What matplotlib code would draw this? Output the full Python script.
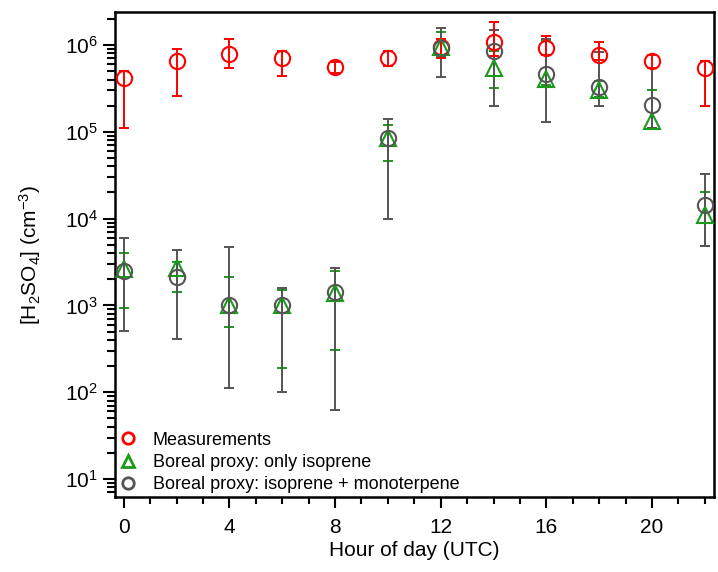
import numpy as np
import matplotlib
matplotlib.use("Agg")
import matplotlib.pyplot as plt
from matplotlib.ticker import LogLocator, MultipleLocator, NullFormatter

plt.rcParams['font.family'] = ['Liberation Sans', 'DejaVu Sans']
plt.rcParams['mathtext.fontset'] = 'custom'
plt.rcParams['mathtext.rm'] = 'Liberation Sans'
plt.rcParams['mathtext.it'] = 'Liberation Sans:italic'

hours = [0, 2, 4, 6, 8, 10, 12, 14, 16, 18, 20, 22]

# Measured H2SO4 concentration with lower/upper bounds (cm^-3)
meas = [4.2e5, 6.6e5, 7.9e5, 7.0e5, 5.6e5, 7.1e5, 9.4e5, 1.09e6, 9.3e5, 7.7e5, 6.5e5, 5.5e5]
meas_lo = [1.1e5, 2.6e5, 5.4e5, 4.4e5, 4.8e5, 5.7e5, 7.0e5, 7.5e5, 7.7e5, 6.7e5, 5.5e5, 2.0e5]
meas_hi = [5.0e5, 9.0e5, 1.16e6, 8.5e5, 6.3e5, 8.6e5, 1.16e6, 1.84e6, 1.27e6, 1.07e6, 7.6e5, 6.6e5]

# Boreal proxy, isoprene only
iso = [2.6e3, 2.7e3, 1.0e3, 1.0e3, 1.4e3, 8.5e4, 9.4e5, 5.4e5, 4.1e5, 3.0e5, 1.34e5, 1.09e4]
iso_lo = [9.4e2, 1.42e3, 5.7e2, 1.9e2, 3.1e2, 4.6e4, 7.3e5, 3.2e5, 3.5e5, 2.5e5, 1.12e5, 4.9e3]
iso_hi = [4.0e3, 3.2e3, 2.1e3, 1.5e3, 2.5e3, 1.2e5, 1.42e6, 8.5e5, 1.1e6, 3.8e5, 3.0e5, 2.0e4]

# Boreal proxy, isoprene + monoterpene
mono = [2.5e3, 2.1e3, 1.0e3, 1.0e3, 1.42e3, 8.6e4, 9.2e5, 8.5e5, 4.6e5, 3.3e5, 2.04e5, 1.45e4]
mono_lo = [5.1e2, 4.1e2, 1.13e2, 1.0e2, 62, 1.0e4, 4.3e5, 2.0e5, 1.3e5, 2.0e5, 1.1e5, 4.9e3]
mono_hi = [6.0e3, 4.3e3, 4.7e3, 1.6e3, 2.7e3, 1.42e5, 1.55e6, 1.49e6, 1.16e6, 8.4e5, 5.4e5, 3.3e4]


def yerr(v, lo, hi):
    v = np.asarray(v, float)
    return np.vstack([v - np.asarray(lo, float), np.asarray(hi, float) - v])


fig = plt.figure(figsize=(7.18, 5.72), dpi=100)
ax = fig.add_axes([0.160, 0.131, 0.8344, 0.848])

red = '#ff0000'
green = '#1a9a1a'
gray = '#555555'
ms = 11
mew = 1.5
cap = 3.6
elw = 1.4

ax.errorbar(hours, iso, yerr=yerr(iso, iso_lo, iso_hi), fmt='none',
            ecolor=green, elinewidth=elw, capsize=cap, capthick=elw, zorder=2)
ax.errorbar(hours, mono, yerr=yerr(mono, mono_lo, mono_hi), fmt='none',
            ecolor=gray, elinewidth=elw, capsize=cap * 0.95, capthick=elw, zorder=3)
ax.errorbar(hours, meas, yerr=yerr(meas, meas_lo, meas_hi), fmt='none',
            ecolor=red, elinewidth=elw, capsize=cap, capthick=elw, zorder=4)

ax.plot(hours, meas, 'o', ms=ms, mfc='none', mec=red, mew=mew, zorder=5,
        label='Measurements')
ax.plot(hours, iso, '^', ms=ms, mfc='none', mec=green, mew=mew, zorder=5,
        label='Boreal proxy: only isoprene')
ax.plot(hours, mono, 'o', ms=ms, mfc='none', mec=gray, mew=mew, zorder=6,
        label='Boreal proxy: isoprene + monoterpene')

ax.set_yscale('log')
ax.set_ylim(6.2, 2.4e6)
ax.set_xlim(-0.34, 22.35)

ax.xaxis.set_major_locator(MultipleLocator(4))
ax.xaxis.set_minor_locator(MultipleLocator(1))
ax.yaxis.set_major_locator(LogLocator(base=10, numticks=10))
ax.yaxis.set_minor_locator(LogLocator(base=10, subs=np.arange(2, 10), numticks=20))
ax.yaxis.set_minor_formatter(NullFormatter())

ax.tick_params(axis='both', which='both', direction='out', width=1.5,
               labelsize=15, top=False, right=False)
ax.tick_params(axis='x', which='major', length=8, pad=7)
ax.tick_params(axis='x', which='minor', length=5)
ax.tick_params(axis='y', which='major', length=9, pad=3)
ax.tick_params(axis='y', which='minor', length=6)

for s in ax.spines.values():
    s.set_linewidth(1.8)

ax.set_xlabel('Hour of day (UTC)', fontsize=15, labelpad=3)
ax.set_ylabel(r'[H$_2$SO$_4$] (cm$^{-3}$)', fontsize=15, labelpad=16)

leg = ax.legend(loc='lower left', frameon=False, fontsize=13,
                handletextpad=0.9, borderaxespad=0.0, labelspacing=0.3,
                handlelength=1.0, markerscale=0.75, borderpad=0.2)
for h in leg.legend_handles:
    h.set_markeredgewidth(2.0)

fig.savefig('out.png', dpi=100)
